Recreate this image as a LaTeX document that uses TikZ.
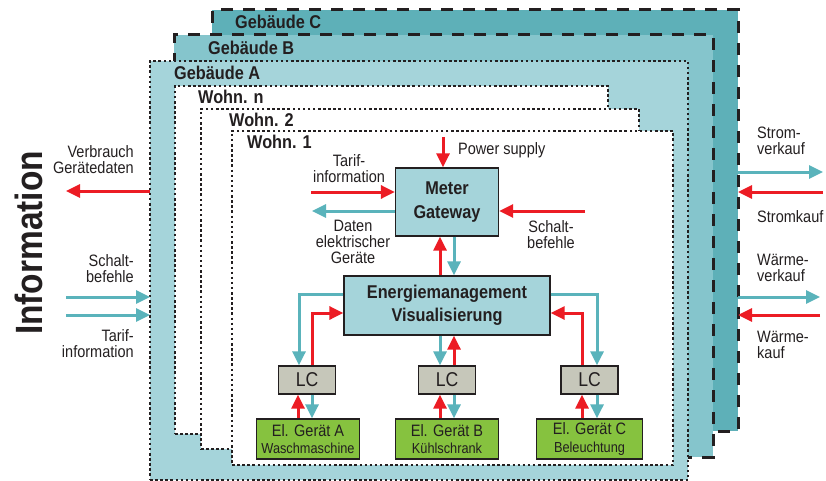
\documentclass[tikz,border=0pt]{standalone}
\usepackage{fontspec}
\setmainfont{Liberation Sans}[FakeStretch=0.88]
\usepackage{tikz}
\usepackage{xcolor}
\usetikzlibrary{arrows.meta}
\definecolor{geb-a}{HTML}{A5D4DA}
\definecolor{geb-b}{HTML}{85C5CC}
\definecolor{geb-c}{HTML}{5EB0B8}
\definecolor{lc-grey}{HTML}{C6C7BA}
\definecolor{geraet-green}{HTML}{86C23F}
\definecolor{arrow-red}{HTML}{EC1C24}
\definecolor{arrow-teal}{HTML}{5AB3BB}
\definecolor{frame-dark}{HTML}{231F20}
\newcommand{\geraettyp}[1]{{\fontsize{14.5}{16}\selectfont #1}}
\tikzset{
    dashed-frame/.style = {rectangle, anchor=north west, inner sep=0pt, outer sep=0pt, draw=frame-dark, line width=3pt, dash pattern=on 12pt off 10pt},
    dotted-frame/.style = {rectangle, anchor=north west, inner sep=0pt, outer sep=0pt, draw=frame-dark, line width=2.5pt, dash pattern=on 2.5pt off 2.6pt},
    frame-title/.style = {anchor=base west, inner sep=0pt, text=frame-dark, font=\bfseries\fontsize{18.5}{20}\selectfont},
    main-box/.style = {draw=frame-dark, fill=geb-a, line width=1.3pt, align=center, text=frame-dark, font=\bfseries\fontsize{18.5}{23.5}\selectfont},
    lc-box/.style = {draw=frame-dark, fill=lc-grey, line width=1.3pt, minimum width=57pt, minimum height=28pt, text=frame-dark, font=\fontsize{20}{22}\selectfont},
    geraet-box/.style = {draw=frame-dark, fill=geraet-green, line width=1.3pt, minimum height=40pt, inner sep=1pt, align=center, text=frame-dark, font=\fontsize{16.5}{17.5}\selectfont},
    flow-label/.style = {inner sep=0pt, text=frame-dark, font=\fontsize{16.5}{16}\selectfont},
    red-arrow/.style = {draw=arrow-red, line width=3pt, -{Triangle[length=14pt,width=13pt]}},
    teal-arrow/.style = {draw=arrow-teal, line width=3pt, -{Triangle[length=14pt,width=13pt]}},
}
\begin{document}
\begin{tikzpicture}[x=1pt, y=-1pt]
\useasboundingbox (0,0) rectangle (826,481);

\node[dashed-frame, fill=geb-c, minimum width=526pt, minimum height=421pt] (gebC) at (212,10) {};
\node[dashed-frame, fill=geb-b, minimum width=539pt, minimum height=422pt] (gebB) at (174,35) {};
\node[dotted-frame, fill=geb-a, minimum width=538pt, minimum height=419pt] (gebA) at (150,61) {};
\node[dotted-frame, fill=white, minimum width=433pt, minimum height=348pt] (wohnN) at (175,86) {};
\node[dotted-frame, fill=white, minimum width=438pt, minimum height=340pt] (wohn2) at (201,109) {};
\node[dotted-frame, fill=white, minimum width=441pt, minimum height=334pt] (wohn1) at (232,131) {};

\node[frame-title] at (235,29) {Gebäude C};
\node[frame-title] at (208,55) {Gebäude B};
\node[frame-title] at (174,80) {Gebäude A};
\node[frame-title] at (198,104) {Wohn. n};
\node[frame-title] at (229,127) {Wohn. 2};
\node[frame-title] at (247,149) {Wohn. 1};

\node[main-box, minimum width=103pt, minimum height=68pt] (meter) at (447,202) {Meter\\Gateway};
\node[main-box, minimum width=206pt, minimum height=59pt] (energie) at (447,305.5) {Energiemanagement\\Visualisierung};
\node[lc-box] (lcA) at (307,380) {LC};
\node[lc-box] (lcB) at (447,380) {LC};
\node[lc-box] (lcC) at (589.5,380) {LC};
\node[geraet-box, minimum width=103pt] (geraetA) at (308,439) {El. Gerät A\\\geraettyp{Waschmaschine}};
\node[geraet-box, minimum width=103pt] (geraetB) at (447,439) {El. Gerät B\\\geraettyp{Kühlschrank}};
\node[geraet-box, minimum width=106pt] (geraetC) at (589.5,439) {El. Gerät C\\\geraettyp{Beleuchtung}};

\coordinate (power) at (443,137);
\coordinate (tarif-in) at (311,192);
\coordinate (daten-out) at (312,211);
\coordinate (schalt-in) at (585,211);
\draw[red-arrow] (power) -- (power |- meter.north);
\draw[red-arrow] (tarif-in) -- (tarif-in -| meter.west);
\draw[teal-arrow] (daten-out -| meter.west) -- (daten-out);
\draw[red-arrow] (schalt-in) -- (schalt-in -| meter.east);
\node[flow-label, anchor=base west] at (458,154) {Power supply};
\node[flow-label, align=center] at (349,169) {Tarif-\\information};
\node[flow-label, align=center] at (353,242) {Daten\\elektrischer\\Geräte};
\node[flow-label, align=center] at (551,235) {Schalt-\\befehle};

\draw[red-arrow] ([xshift=-7pt]energie.north) -- ([xshift=-7pt]meter.south);
\draw[teal-arrow] ([xshift=7pt]meter.south) -- ([xshift=7pt]energie.north);
\draw[teal-arrow] ([yshift=11.5pt]energie.west) -| ([xshift=-8pt]lcA.north);
\draw[red-arrow] ([xshift=5pt]lcA.north) |- ([yshift=-7.5pt]energie.west);
\draw[teal-arrow] ([xshift=-7pt]energie.south) -- ([xshift=-7pt]lcB.north);
\draw[red-arrow] ([xshift=7pt]lcB.north) -- ([xshift=7pt]energie.south);
\draw[teal-arrow] ([yshift=11.5pt]energie.east) -| ([xshift=7.5pt]lcC.north);
\draw[red-arrow] ([xshift=-7.5pt]lcC.north) |- ([yshift=-7.5pt]energie.east);

\draw[red-arrow] ([xshift=-10pt]geraetA.north) -- ([xshift=-9pt]lcA.south);
\draw[teal-arrow] ([xshift=5pt]lcA.south) -- ([xshift=4pt]geraetA.north);
\draw[red-arrow] ([xshift=-7pt]geraetB.north) -- ([xshift=-7pt]lcB.south);
\draw[teal-arrow] ([xshift=7pt]lcB.south) -- ([xshift=7pt]geraetB.north);
\draw[red-arrow] ([xshift=-7.5pt]geraetC.north) -- ([xshift=-7.5pt]lcC.south);
\draw[teal-arrow] ([xshift=7.5pt]lcC.south) -- ([xshift=7.5pt]geraetC.north);

\coordinate (verbrauch-out) at (66,191);
\coordinate (schalt-ext) at (66,297);
\coordinate (tarif-ext) at (66,315);
\draw[red-arrow] (verbrauch-out -| gebA.west) -- (verbrauch-out);
\draw[teal-arrow] (schalt-ext) -- (schalt-ext -| gebA.west);
\draw[teal-arrow] (tarif-ext) -- (tarif-ext -| gebA.west);
\node[flow-label, align=right, anchor=east] at (134,160) {Verbrauch\\Gerätedaten};
\node[flow-label, align=right, anchor=east] at (134,269) {Schalt-\\befehle};
\node[flow-label, align=right, anchor=east] at (134,344) {Tarif-\\information};
\node[rotate=90, inner sep=0pt, text=frame-dark, font=\bfseries\fontsize{38}{40}\selectfont] (info) at (29,243) {Information};

\coordinate (strom-verkauf) at (823,172);
\coordinate (strom-kauf) at (823,192);
\coordinate (waerme-verkauf) at (820,297);
\coordinate (waerme-kauf) at (820,315);
\draw[teal-arrow] (strom-verkauf -| gebC.east) -- (strom-verkauf);
\draw[red-arrow] (strom-kauf) -- (strom-kauf -| gebC.east);
\draw[teal-arrow] (waerme-verkauf -| gebC.east) -- (waerme-verkauf);
\draw[red-arrow] (waerme-kauf) -- (waerme-kauf -| gebC.east);
\node[flow-label, align=left, anchor=west] at (757,141) {Strom-\\verkauf};
\node[flow-label, align=left, anchor=west] at (757,217) {Stromkauf};
\node[flow-label, align=left, anchor=west] at (757,268) {Wärme-\\verkauf};
\node[flow-label, align=left, anchor=west] at (757,345) {Wärme-\\kauf};
\end{tikzpicture}
\end{document}
